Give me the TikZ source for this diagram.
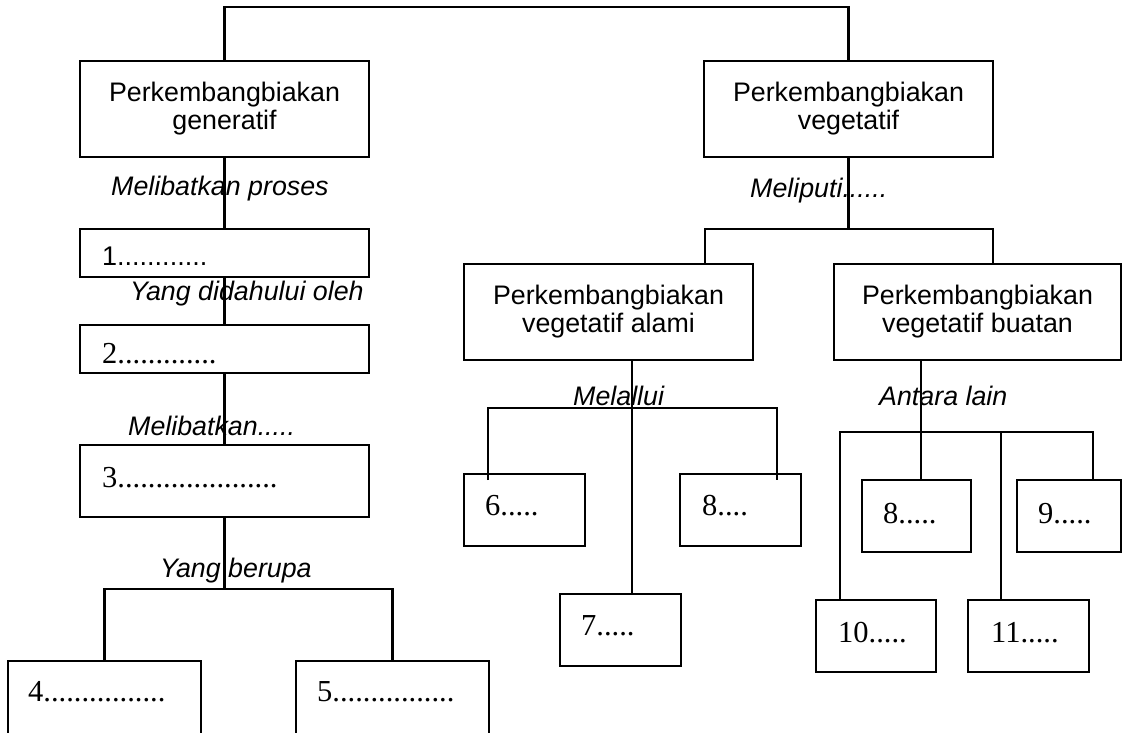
\documentclass[tikz,border=0pt]{standalone}
\usepackage{fontspec}
\setmainfont{Liberation Sans}
\newfontfamily\tnr{Liberation Serif}
\usetikzlibrary{calc}
\tikzset{
  box/.style={draw, rectangle, line width=2.1pt, inner sep=0pt},
  bigbox/.style={box, minimum width=289pt, minimum height=96pt, align=center,
    font=\fontsize{26.8}{29.5}\selectfont},
  lbl/.style={inner sep=0pt, anchor=base west, font=\fontsize{26.8}{30}\selectfont\itshape},
  numa/.style={inner sep=0pt, anchor=base west, font=\fontsize{27}{30}\selectfont},
  num/.style={inner sep=0pt, anchor=base west, font=\tnr\fontsize{30.5}{34}\selectfont},
  link/.style={line width=2.1pt},
}
\begin{document}
\begin{tikzpicture}[x=1pt, y=-1pt]
\useasboundingbox (0,0) rectangle (1122,732);
\clip (0,0) rectangle (1122,732);
% main boxes
\node[bigbox] (gen) at (224.5,109) {\raisebox{3pt}{\shortstack{Perkembangbiakan\\generatif}}};
\node[bigbox] (veg) at (848.5,109) {\raisebox{3pt}{\shortstack{Perkembangbiakan\\vegetatif}}};
\node[bigbox] (alami) at (608.5,312) {\raisebox{3pt}{\shortstack{Perkembangbiakan\\vegetatif alami}}};
\node[bigbox, minimum width=287pt] (buatan) at (977.5,312) {\raisebox{3pt}{\shortstack{Perkembangbiakan\\vegetatif buatan}}};
% left column boxes
\node[box, minimum width=289pt, minimum height=48pt] (b1) at (224.5,253) {};
\node[box, minimum width=289pt, minimum height=48pt] (b2) at (224.5,349) {};
\node[box, minimum width=289pt, minimum height=72pt] (b3) at (224.5,481) {};
\node[box, minimum width=193pt, minimum height=80pt] (b4) at (104.5,701) {};
\node[box, minimum width=193pt, minimum height=80pt] (b5) at (392.5,701) {};
% alami children
\node[box, minimum width=121pt, minimum height=72pt] (b6) at (524.5,510) {};
\node[box, minimum width=121pt, minimum height=72pt] (b8) at (740.5,510) {};
\node[box, minimum width=121pt, minimum height=72pt] (b7) at (620.5,630) {};
% buatan children
\node[box, minimum width=109pt, minimum height=72pt] (b8b) at (916.5,516) {};
\node[box, minimum width=104pt, minimum height=72pt] (b9) at (1069,516) {};
\node[box, minimum width=120pt, minimum height=72pt] (b10) at (876,636) {};
\node[box, minimum width=121pt, minimum height=72pt] (b11) at (1028.5,636) {};
% texts in small boxes
\node[numa] (t1) at (102,265) {1............};
\node[num] (t2) at (102,363) {2.............};
\node[num] (t3) at (102,487) {3.....................};
\node[num] (t4) at (28,701) {4................};
\node[num] (t5) at (317,701) {5................};
\node[num] (t6) at (485,515) {6.....};
\node[num] (t8) at (702,515) {8....};
\node[num] (t7) at (581,635) {7.....};
\node[num] (t8b) at (883,523) {8.....};
\node[num] (t9) at (1038,523) {9.....};
\node[num] (t10) at (838,642) {10.....};
\node[num] (t11) at (991,642) {11.....};
% connector labels
\node[lbl] (l1) at (111,195) {Melibatkan proses};
\node[lbl] (l2) at (130,300) {Yang didahului oleh};
\node[lbl] (l3) at (128,435) {Melibatkan.....};
\node[lbl] (l4) at (160,577) {Yang berupa};
\node[lbl] (l5) at (750,197) {Meliputi......};
\node[lbl] (l6) at (573,405) {Melallui};
\node[lbl] (l7) at (879,405) {Antara lain};
% junction coordinates
\coordinate (top) at (536,7);
\coordinate (j1) at (224.5,589);
\coordinate (j2) at (848.5,229);
\coordinate (v1) at (705,229);
\coordinate (v2) at (993,229);
\coordinate (m1) at (632,408);
\coordinate (m6) at (488,408);
\coordinate (m8) at (777,408);
\coordinate (e6) at (488,480);
\coordinate (e8) at (777,480);
\coordinate (n1) at (921,432);
\coordinate (n10) at (840,432);
\coordinate (n11) at (1001,432);
\coordinate (n9) at (1093,432);
% connectors
\draw[link] (gen.north) |- (top) -| (veg.north);
\draw[link] (gen.south) -- (b1.north);
\draw[link] (b1.south) -- (b2.north);
\draw[link] (b2.south) -- (b3.north);
\draw[link] (b3.south) -- (j1);
\draw[link] (b4.north) |- (j1) -| (b5.north);
\draw[link] (veg.south) -- (j2);
\draw[link] (v1 |- alami.north) -- (v1) -- (v2) -- (v2 |- buatan.north);
\draw[link] (m1 |- alami.south) -- (m1 |- b7.north);
\draw[link] (e6) -- (m6) -- (m8) -- (e8);
\draw[link] (n1 |- buatan.south) -- (n1 |- b8b.north);
\draw[link] (n10 |- b10.north) -- (n10) -- (n9) -- (n9 |- b9.north);
\draw[link] (n11) -- (n11 |- b11.north);
\end{tikzpicture}
\end{document}
